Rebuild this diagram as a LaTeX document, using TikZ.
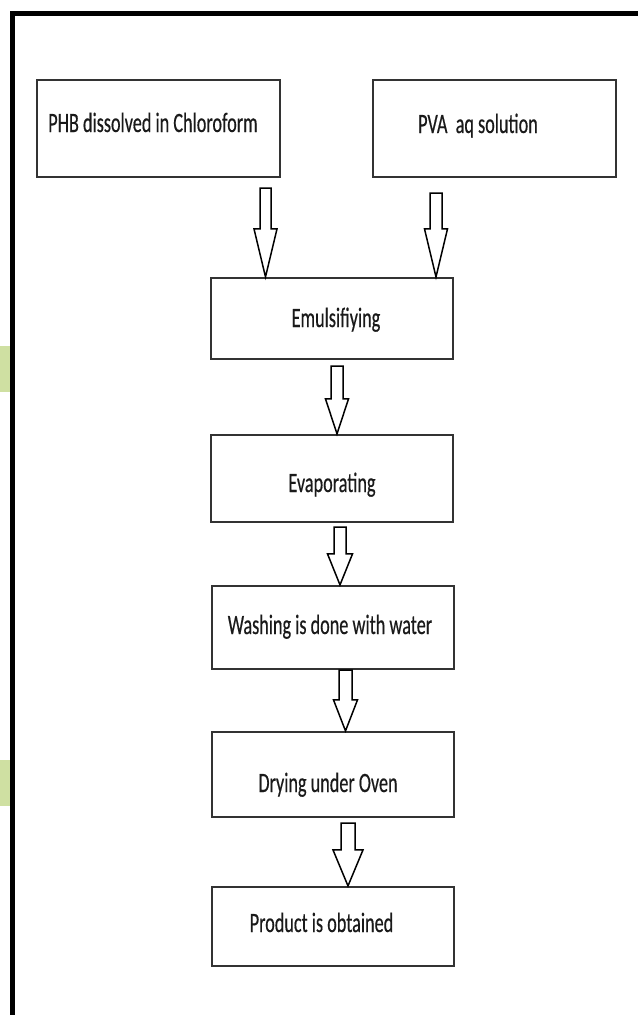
\documentclass[tikz,border=0pt]{standalone}
\usepackage{fontspec}
\setmainfont{Carlito}[FakeStretch=0.65,FakeBold=0.4]
\usetikzlibrary{calc}
\definecolor{boxline}{HTML}{333333}
\definecolor{txt}{HTML}{1A1A1A}
\definecolor{leafgreen}{HTML}{CFE0A2}
\tikzset{
  stepbox/.style={draw=boxline, line width=2.2pt, fill=white, inner sep=0pt},
  steptext/.style={anchor=base, inner sep=0pt, text=txt, font=\fontsize{28}{32}\selectfont},
  blockarr/.style={draw=black, line width=1.5pt, fill=white, line join=miter},
}
\newcommand{\flowarrow}[7]{%
  \draw[blockarr] let \p1=(#2.north), \p2=(#1.south) in
    (#3pt-#6pt,\y2-#4pt) -- (#3pt-#6pt,\y1+#5pt) -- (#3pt-#7pt,\y1+#5pt) --
    (#3pt,\y1) -- (#3pt+#7pt,\y1+#5pt) -- (#3pt+#6pt,\y1+#5pt) --
    (#3pt+#6pt,\y2-#4pt) -- cycle;}
\begin{document}
\begin{tikzpicture}[x=1pt,y=-1pt]
\useasboundingbox[fill=white] (0,0) rectangle (638,1015);
% background remnants at the left edge
\fill[leafgreen] (0,346) rectangle (10,392);
\fill[leafgreen] (0,760) rectangle (10,806);
% frame
\draw[line width=5pt, line join=miter] (12.5,1015) -- (12.5,13) -- (638,13);
% boxes
\node[stepbox, minimum width=243pt, minimum height=97pt] (b1) at (158.5,128.5) {};
\node[stepbox, minimum width=243pt, minimum height=97pt] (b2) at (494.5,128.5) {};
\node[stepbox, minimum width=242pt, minimum height=81pt] (emul) at (332,318.5) {};
\node[stepbox, minimum width=242pt, minimum height=87pt] (evap) at (332,478.5) {};
\node[stepbox, minimum width=242pt, minimum height=83pt] (wash) at (333,627.5) {};
\node[stepbox, minimum width=242pt, minimum height=85pt] (dry) at (333,774.5) {};
\node[stepbox, minimum width=242pt, minimum height=79pt] (prod) at (333,926.5) {};
% texts
\node[steptext] (t1) at (153,132) {PHB dissolved in Chloroform};
\node[steptext] (t2) at (478,133) {PVA\ \ aq solution};
\node[steptext] (t3) at (336,327) {Emulsifiying};
\node[steptext] (t4) at (332,492) {Evaporating};
\node[steptext] (t5) at (330,634) {Washing is done with water};
\node[steptext] (t6) at (328,792) {Drying under Oven};
\node[steptext] (t7) at (321.5,932) {Product is obtained};
% block arrows: from, to, x, gap, head length, shaft half, head half
\flowarrow{b1}{emul}{265.5}{10}{48}{5.5}{11.5}
\flowarrow{b2}{emul}{436}{15}{48}{6}{11.5}
\flowarrow{emul}{evap}{337}{6}{35}{6}{11.5}
\flowarrow{evap}{wash}{340}{4}{31}{6}{12.5}
\flowarrow{wash}{dry}{345.5}{0}{31}{6.5}{12}
\flowarrow{dry}{prod}{348}{5}{36}{7}{15}
\end{tikzpicture}
\end{document}
